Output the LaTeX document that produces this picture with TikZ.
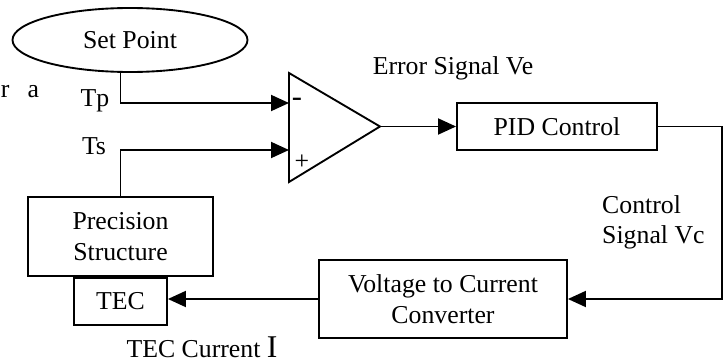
\documentclass[tikz,border=0pt]{standalone}
\usepackage{fontspec}
\setmainfont{Liberation Serif}
\usetikzlibrary{arrows.meta,positioning,shapes.geometric}

\begin{document}
\begin{tikzpicture}[x=0.03cm,y=-0.03cm,
  font=\fontsize{22}{26}\selectfont,
  block/.style={draw,line width=1.6pt,align=center,inner sep=0pt},
  sig/.style={line width=1.6pt,-{Triangle[length=0.54cm,width=0.48cm]}}]
\useasboundingbox (0,0) rectangle (723,364);
% blocks
\node[block,ellipse,minimum width=7.05cm,minimum height=1.92cm] (setpt) at (130,40) {Set Point};
\node[block,minimum width=6cm,minimum height=1.41cm] (pid) at (557,126.5) {PID Control};
\node[block,minimum width=7.44cm,minimum height=2.34cm] (vtoc) at (443,299) {Voltage to Current\\Converter};
\node[block,minimum width=5.55cm,minimum height=2.37cm] (prec) at (120.5,236.5) {Precision\\Structure};
\node[block,minimum width=2.79cm,minimum height=1.41cm,anchor=north] (tec) at (prec.south) {TEC};
% comparator
\coordinate (amptop) at (289,73);
\coordinate (ampbot) at (289,182);
\coordinate (ampout) at (380,126.5);
\coordinate (ampneg) at (289,103);
\coordinate (amppos) at (289,150);
\draw[line width=1.6pt] (amptop) -- (ampbot) -- (ampout) -- cycle;
\node (minus) at (297,102) {\fontsize{26}{26}\selectfont -};
\node (plus) at (302,162) {+};
% labels
\node[anchor=base] (ra) at (20,97) {r\hspace{0.55cm}a};
\node[anchor=base] (tp) at (95,106) {Tp};
\node[anchor=base] (ts) at (94,154) {Ts};
\node[anchor=base] (err) at (453,74) {Error Signal Ve};
\node[anchor=north west,align=left,inner sep=0pt] (ctl) at (602,195) {Control\\Signal Vc};
\node[anchor=base] (cur) at (202,357) {TEC Current {\fontsize{27}{30}\selectfont I}};
% signal lines
\draw[sig] (setpt.south -| prec.north) |- (ampneg);
\draw[sig] (prec.north) |- (amppos);
\draw[sig] (ampout) -- (pid.west);
\draw[sig] (pid.east) -- (722,126.5) |- (vtoc.east);
\draw[sig] (vtoc.west) -- (tec.east |- vtoc.west);
\end{tikzpicture}
\end{document}
